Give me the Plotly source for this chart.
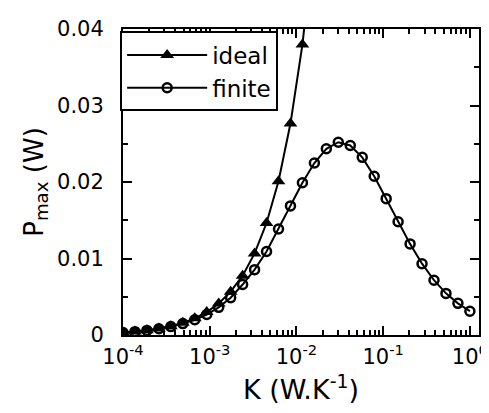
import plotly.graph_objects as go

# Thermal conductance K (W/K), sampled on a log grid from 1e-4 to 1
K_values = [1.000e-4, 1.374e-4, 1.887e-4, 2.593e-4, 3.562e-4, 4.894e-4, 6.723e-4, 9.237e-4,
            1.269e-3, 1.743e-3, 2.395e-3, 3.290e-3, 4.520e-3, 6.210e-3, 8.532e-3, 1.172e-2,
            1.610e-2, 2.212e-2, 3.039e-2, 4.175e-2, 5.736e-2, 7.880e-2, 0.1083, 0.1487,
            0.2043, 0.2807, 0.3857, 0.5298, 0.7279, 1.0]

# Ideal: points up to the top of the frame (last one leaves the frame)
K_ideal = K_values[:17]
P_ideal = [0.000324, 0.000445, 0.000611, 0.00084, 0.001154, 0.001586, 0.002178, 0.002993,
           0.00411, 0.00566, 0.00776, 0.01066, 0.01464, 0.0201, 0.02764, 0.03797, 0.0522]

# Finite
P_finite = [0.00032, 0.00044, 0.0006, 0.00081, 0.0011, 0.00149, 0.00199, 0.00268,
            0.00362, 0.00488, 0.0066, 0.00854, 0.01091, 0.01385, 0.01687, 0.0199,
            0.02248, 0.02434, 0.0252, 0.02477, 0.02322, 0.02075, 0.01782, 0.0148,
            0.01191, 0.00932, 0.00716, 0.00544, 0.00414, 0.00311]

x_tickvals = [1e-4, 1e-3, 1e-2, 1e-1, 1]
x_ticktext = ["10<sup>-4</sup>", "10<sup>-3</sup>", "10<sup>-2</sup>", "10<sup>-1</sup>", "10<sup>0</sup>"]
x_minorvals = [m * 10 ** e for e in range(-4, 0) for m in range(2, 10)]

y_tickvals = [0, 0.01, 0.02, 0.03, 0.04]
y_ticktext = ["0", "0.01", "0.02", "0.03", "0.04"]

FONT = "DejaVu Sans"

fig = go.Figure()
fig.add_trace(go.Scatter(
    x=K_ideal, y=P_ideal, name="ideal", mode="lines+markers",
    line=dict(color="black", width=2),
    marker=dict(symbol="triangle-up", size=12, color="black"),
))
fig.add_trace(go.Scatter(
    x=K_values, y=P_finite, name="finite", mode="lines+markers",
    line=dict(color="black", width=2),
    marker=dict(symbol="circle-open", size=9, color="black", line=dict(width=2.5, color="black")),
))

axis_common = dict(
    showline=True, linecolor="black", linewidth=2, mirror="ticks",
    ticks="inside", tickwidth=2, tickcolor="black", ticklen=9,
    showgrid=False, zeroline=False,
    tickfont=dict(family=FONT, size=21, color="black"),
)

fig.update_xaxes(
    type="log", range=[-4, 0.105],
    tickmode="array", tickvals=x_tickvals, ticktext=x_ticktext,
    minor=dict(tickmode="array", tickvals=x_minorvals, ticks="inside", ticklen=5,
               tickwidth=2, tickcolor="black", showgrid=False),
    title=dict(text="K (W.K<sup>-1</sup>)", font=dict(family=FONT, size=27, color="black"), standoff=12),
    ticklabelstandoff=2,
    **axis_common,
)
fig.update_yaxes(
    range=[0, 0.04],
    tickmode="array", tickvals=y_tickvals, ticktext=y_ticktext,
    minor=dict(tickmode="array", tickvals=[0.005, 0.015, 0.025, 0.035], ticks="inside",
               ticklen=5, tickwidth=2, tickcolor="black", showgrid=False),
    title=dict(text="P<sub>max</sub> (W)", font=dict(family=FONT, size=26, color="black"), standoff=6),
    ticklabelstandoff=13,
    **axis_common,
)

fig.update_layout(
    width=489, height=413,
    margin=dict(l=115, r=9, t=18, b=86),
    paper_bgcolor="white", plot_bgcolor="white",
    font=dict(family=FONT, color="black"),
    showlegend=True,
    legend=dict(
        x=-0.008, y=0.992, xanchor="left", yanchor="top",
        bordercolor="black", borderwidth=2, bgcolor="white",
        font=dict(family=FONT, size=23, color="black"),
        itemwidth=80, tracegroupgap=0,
    ),
)

fig.write_html("out.html")
